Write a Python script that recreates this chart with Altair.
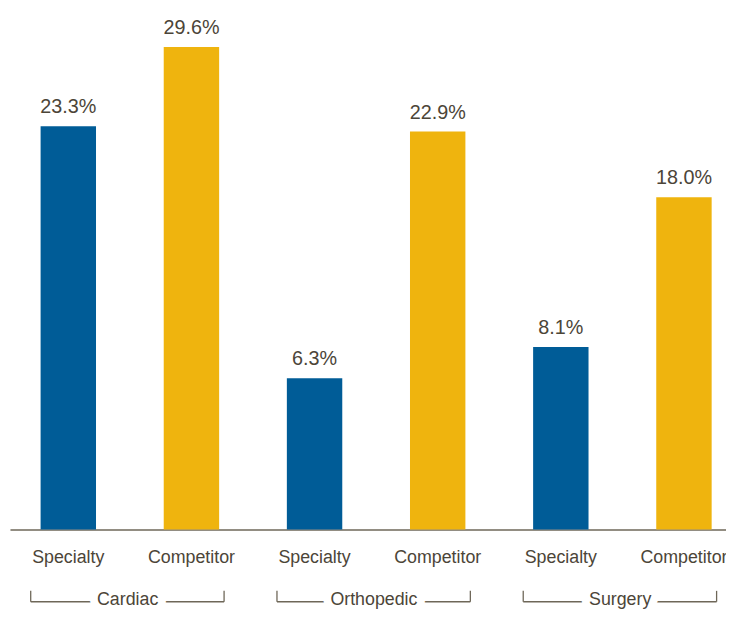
import altair as alt
import pandas as pd

groups = ["Cardiac", "Orthopedic", "Surgery"]
series = ["Specialty", "Competitor"]
specialty_values = [23.3, 6.3, 8.1]
competitor_values = [29.6, 22.9, 18.0]

BLUE = "#005c97"
YELLOW = "#efb40e"
TEXT = "#4c4538"
LINE = "#6e6758"

keys = []
rows = []
for g, sv, cv in zip(groups, specialty_values, competitor_values):
    for s, v in zip(series, [sv, cv]):
        k = f"{g}|{s}"
        keys.append(k)
        rows.append({"key": k, "series": s, "group": g, "value": v})
bars_df = pd.DataFrame(rows)
grp_df = pd.DataFrame({
    "group": groups,
    "left": [f"{g}|Specialty" for g in groups],
    "right": [f"{g}|Competitor" for g in groups],
})

xscale = alt.Scale(domain=keys, paddingInner=0.55, paddingOuter=0.1826, align=0.681, round=False)
yscale = alt.Scale(type="pow", exponent=0.75, domain=[0, 32.55], nice=False, zero=True)

base = alt.Chart(bars_df)
bars = base.mark_bar().encode(
    x=alt.X("key:N", scale=xscale, title=None),
    y=alt.Y("value:Q", scale=yscale, axis=None),
    color=alt.Color("series:N", scale=alt.Scale(domain=series, range=[BLUE, YELLOW]), legend=None),
)
labels = base.transform_calculate(
    lab="format(datum.value, '.1f') + '%'"
).mark_text(dy=-13, baseline="alphabetic", fontSize=20, font="Liberation Sans", color=TEXT).encode(
    x=alt.X("key:N", title=None),
    y=alt.Y("value:Q", axis=None),
    text="lab:N",
)

TICK_TOP, LINE_Y, TEXT_Y = 586, 597, 600

gb = alt.Chart(grp_df)
ltick = gb.mark_rule(color=LINE, strokeWidth=1.3, xOffset=-10).encode(
    x=alt.X("left:N", bandPosition=0, title=None),
    y=alt.value(TICK_TOP), y2=alt.value(LINE_Y),
)
rtick = gb.mark_rule(color=LINE, strokeWidth=1.3, xOffset=5).encode(
    x=alt.X("right:N", bandPosition=1, title=None),
    y=alt.value(TICK_TOP), y2=alt.value(LINE_Y),
)
hline = gb.mark_rule(color=LINE, strokeWidth=1.3, xOffset=-10, x2Offset=5).encode(
    x=alt.X("left:N", bandPosition=0, title=None),
    x2=alt.X2("right:N", bandPosition=1),
    y=alt.value(LINE_Y),
)
halo = gb.mark_text(fontSize=18, font="Liberation Sans", baseline="alphabetic", xOffset=32,
                    fill="white", stroke="white", strokeWidth=16, strokeJoin="round").encode(
    x=alt.X("left:N", bandPosition=1, title=None),
    y=alt.value(TEXT_Y),
    text="group:N",
)
gtext = gb.mark_text(fontSize=18, font="Liberation Sans", baseline="alphabetic", color=TEXT, xOffset=32).encode(
    x=alt.X("left:N", bandPosition=1, title=None),
    y=alt.value(TEXT_Y),
    text="group:N",
)

chart = alt.layer(bars, labels, ltick, rtick, hline, halo, gtext).properties(
    width=724, height=524,
    autosize=alt.AutoSizeParams(type="none"),
    padding={"left": 2, "top": 0, "right": 0, "bottom": 77},
).configure_view(stroke=None).configure_axisX(
    labelExpr="split(datum.label, '|')[1]",
    labelAngle=0, labelFontSize=18, labelFont="Liberation Sans", labelColor=TEXT,
    labelBaseline="alphabetic", labelPadding=33, ticks=False, tickSize=0,
    domainColor=LINE, domainWidth=1.5, grid=False,
)

chart.save("out.html", embed_options={"renderer": "svg", "actions": False})
